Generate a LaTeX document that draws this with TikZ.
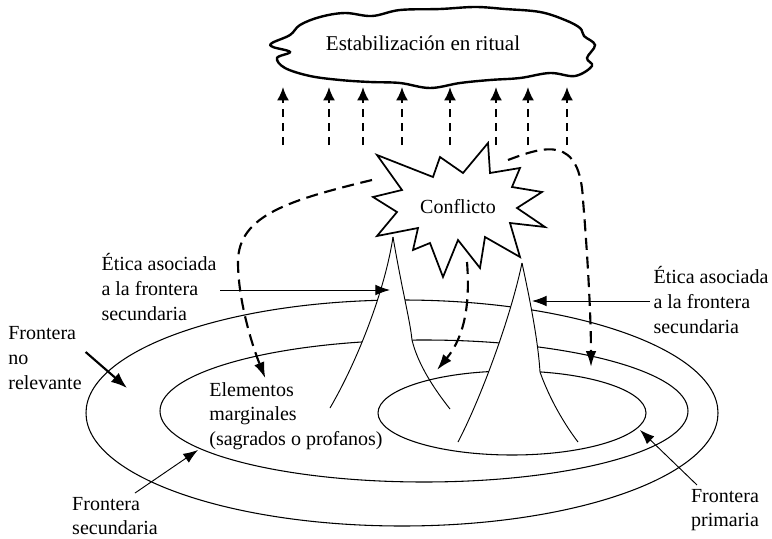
\documentclass[tikz,border=0pt]{standalone}
\usepackage{fontspec}
\setmainfont{Liberation Serif}
\usetikzlibrary{shapes,arrows.meta}
\begin{document}
\begin{tikzpicture}[x=0.75pt,y=-0.75pt]
    \tikzstyle{every node}=[font=\fontsize{15}{18.5}\selectfont]
    \tikzstyle{textblock}=[align=left,inner sep=0pt,outer sep=3pt]
    \tikzstyle{ring}=[line width=0.8pt]
    \tikzstyle{flank}=[line width=0.7pt]
    \tikzstyle{pointer}=[line width=0.7pt,-{Latex[length=11pt,width=8pt]}]
    \tikzstyle{bigpointer}=[line width=1.6pt,-{Latex[length=12pt,width=9pt]}]
    \tikzstyle{upflow}=[line width=1.6pt,dash pattern=on 6pt off 4.5pt,-{Latex[length=10pt,width=9pt]}]
    \tikzstyle{downflow}=[line width=1.6pt,dash pattern=on 9pt off 5pt,-{Latex[length=12pt,width=8pt]}]
    \useasboundingbox (0,0) rectangle (772,539);
    \draw[ring] (402,413) ellipse [x radius=316,y radius=113];
    \draw[ring] (424,411) ellipse [x radius=264,y radius=71];
    \fill[white] (393,237) .. controls (402,290) and (410,320) .. (412,340) .. controls (418,365) and (435,390) .. (450,409)
        -- (330,408) .. controls (358,360) and (385,290) .. cycle;
    \draw[flank] (393,237) .. controls (385,290) and (358,360) .. (330,408);
    \draw[flank] (393,237) .. controls (402,290) and (410,320) .. (412,340) .. controls (418,365) and (435,390) .. (450,409);
    \draw[ring] (512,413) ellipse [x radius=134,y radius=42];
    \fill[white] (522,263) .. controls (530,300) and (538,340) .. (540,372) .. controls (550,400) and (565,425) .. (578,442)
        -- (458,442) .. controls (480,400) and (510,320) .. cycle;
    \draw[flank] (522,263) .. controls (510,320) and (480,400) .. (458,442);
    \draw[flank] (522,263) .. controls (530,300) and (538,340) .. (540,372) .. controls (550,400) and (565,425) .. (578,442);
    \filldraw[fill=white,line width=1.3pt] (377,155) -- (402,190) -- (373,197) -- (397,212) -- (377,236) -- (418,228)
        -- (413,250) -- (430,243) -- (443,277) -- (458,240) -- (480,268) -- (485,237) -- (520,257) -- (510,223)
        -- (545,227) -- (517,208) -- (542,192) -- (512,187) -- (520,168) -- (490,173) -- (488,143) -- (463,173)
        -- (440,157) -- (433,177) -- cycle;
    \node (conflict) at (458,207) {Conflicto};
    \draw[line width=1.8pt] plot[smooth cycle,tension=0.6] coordinates {(272,43) (290,35) (300,25) (320,17) (345,13)
        (372,16) (400,10) (440,9) (475,7) (505,9) (540,12) (565,20) (580,28) (584,36) (595,45) (587,58) (592,66)
        (575,76) (550,73) (520,78) (490,80) (460,83) (430,88) (400,83) (370,82) (340,80) (310,76) (285,68) (277,58)
        (290,52) (273,47)};
    \node[font=\fontsize{15.8}{19}\selectfont] (ritual) at (423,43) {Estabilización en ritual};
    \foreach \x in {283,329,363,402,450,496,528,567}
        \draw[upflow] (\x,145) -- (\x,87);
    \node[textblock] (eticaL) at (159,287) {Ética asociada\\a la frontera\\secundaria};
    \node[textblock] (eticaR) at (711,300) {Ética asociada\\a la frontera\\secundaria};
    \node[textblock] (norel) at (45,358) {Frontera\\no\\relevante};
    \node[textblock] (elem) at (296,416) {Elementos\\marginales\\(sagrados o profanos)};
    \node[textblock] (fsec) at (115,516) {Frontera\\secundaria};
    \node[textblock] (fprim) at (725,510) {Frontera\\primaria};
    \coordinate (sw) at (372,180);
    \coordinate (sne) at (508,160);
    \coordinate (ss) at (467,262);
    \coordinate (rtip) at (591,367);
    \coordinate (ctip) at (437,370);
    \coordinate (lpeak) at (390,290);
    \coordinate (rpeak) at (532,301);
    \coordinate (outerin) at (127,388);
    \coordinate (secring) at (198,450);
    \coordinate (primring) at (640,430);
    \draw[downflow] (sw) .. controls (290,200) and (238,215) .. (238,262) .. controls (238,300) and (252,345) .. ([xshift=-23pt]elem.north);
    \draw[downflow] (sne) .. controls (545,146) and (580,135) .. (583,200) .. controls (588,260) and (591,320) .. (rtip);
    \draw[downflow] (ss) .. controls (470,300) and (466,335) .. (ctip);
    \draw[pointer] (eticaL.east |- lpeak) -- (lpeak);
    \draw[pointer] (eticaR.west |- rpeak) -- (rpeak);
    \draw[bigpointer] ([yshift=4.5pt]norel.east) -- (outerin);
    \draw[pointer] ([xshift=15pt]fsec.north) -- (secring);
    \draw[pointer] ([xshift=-21pt]fprim.north) -- (primring);
\end{tikzpicture}
\end{document}
